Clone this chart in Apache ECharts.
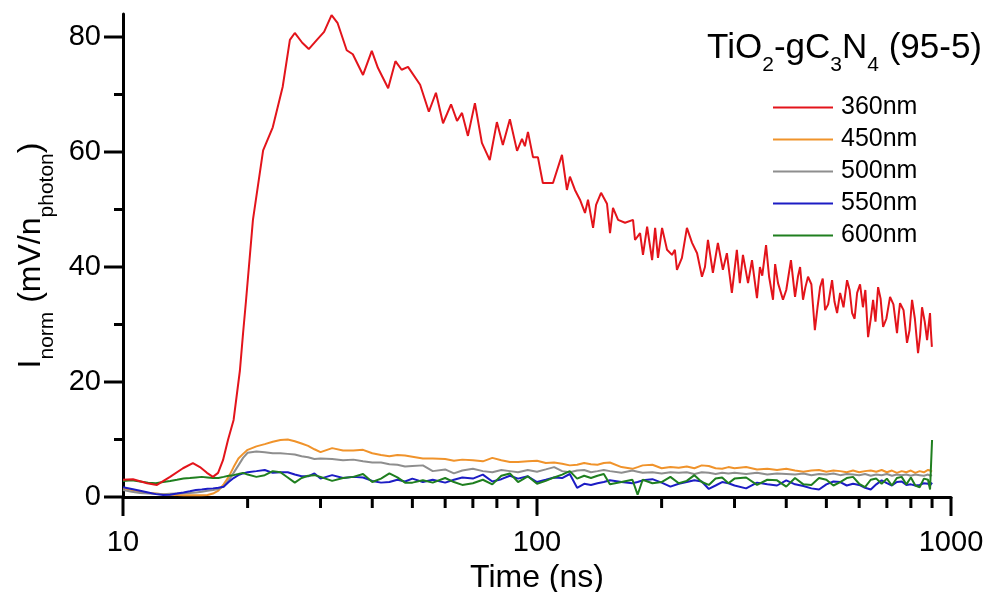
<!DOCTYPE html>
<html><head><meta charset="utf-8">
<script src="https://cdn.jsdelivr.net/npm/echarts@6/dist/echarts.min.js"></script>
<style>html,body{margin:0;padding:0;background:#fff}#c{width:986px;height:592px}</style>
</head><body><div id="c"></div>
<script>
// ---- data (time in ns, intensity in mV/n_photon) ----
const tRed = [10,10.57,11.43,12.08,12.99,13.96,14.75,15.34,15.95,16.49,16.97,17.44,17.93,18.5,19.16,19.5,19.83,20.6,21.8,23.0,24.3,25.3,26.0,27.1,28.1,29.4,30.6,31.9,33.0,34.7,35.9,38.0,39.9,41.3,43.7,45.5,47.1,48.8,52.2,54.8,57.0,59.3,62.0,64.1,65.9,68.1,70.8,73.6,76.9,80.0,82.7,86.0,89.5,92.0,93.5,95.1,97.8,100.5,103.3,109.3,114.9,118.1,120.1,123.5,127.0,130.6,132.8,136.6,138.9,142.8,147.6,150.1,152.6,157.0,163.2,165.0,170.6,172.5,177.4,180.3,184.5,189.7,192.9,196.0,200.5,206.1,211.9,215.3,217.8,223.9,230.2,236.9,243.6,250.3,254.5,258.8,266.0,273.5,281.2,287.5,295.6,303.9,309.0,314.4,323.4,330.6,339.9,345.5,350,357.5,363.6,371.6,376,382.1,392.8,400,410.6,420.0,426.8,432,439.1,445,451.5,460,469.0,476,482.9,490,496.5,505,516.1,523,530.7,539.7,550,561.0,569,577.0,585,593.3,603,612.7,621,630.6,640,648.4,657,666.7,676,685.5,698,712.5,726,740.6,747,753.1,768,783.0,794,805.3,818,832.5,842,851.2,864,875.5,882,889.8,894,899.1];
const v360 = [3.0,3.1,2.4,2.1,3.5,5.0,5.9,5.2,4.2,3.5,4.2,6.4,9.9,13.4,22.0,28.5,34.3,48.2,60.3,64.3,71.3,79.5,80.7,79.0,77.9,79.5,80.9,83.8,82.4,77.7,77.0,73.4,77.6,74.6,71.1,75.8,74.3,74.8,71.7,67.0,70.3,65.0,68.3,65.4,66.8,62.8,68.5,61.6,58.6,65.2,61.2,65.7,60.2,62.3,61.0,63.5,59.1,59.1,54.6,54.6,59.5,53.4,55.7,53.4,51.7,49.4,51.7,46.8,50.8,52.9,51.0,45.9,50.3,48.2,47.7,47.8,48.2,44.7,45.9,42.1,47.0,41.2,46.8,41.6,46.8,43.0,42.1,43.0,39.5,41.6,46.8,44.2,42.4,38.3,40.0,44.7,39.0,44.2,39.5,42.4,35.5,43.0,37.2,42.1,37.2,41.2,34.6,40.0,38.5,43.8,38.3,34.3,40.5,37.2,34.3,36.0,41.2,34.8,38.3,40.0,34.3,36.5,38.3,37.0,29.0,33.0,36.5,38.0,32.5,33.5,37.7,34.0,32.0,35.5,33.0,37.7,36.0,32.0,31.0,35.5,37.0,33.0,36.0,27.8,31.0,34.3,30.5,36.5,34.5,29.6,31.0,34.8,33.5,28.5,31.5,33.7,32.5,26.8,29.0,34.3,31.0,25.0,28.0,33.0,30.5,27.3,29.5,32.0,29.0,26.1];

const tLow = [10,10.5,11,11.5,12,12.5,13,13.5,14,14.5,15,15.5,16,16.5,17,17.5,18,18.5,19,19.5,20,
  21,22,23,24,25,26,27,28,29,30,
  32,34,36,38,40,42,44,46,48,50,
  53,56,60,63,66,70,74,78,82,86,90,95,100,
  105,110,115,120,125,130,135,140,145,150,
  160,170,175,180,190,200,
  210,220,230,240,250,260,270,280,290,300,
  320,340,360,380,400,420,440,460,480,500,520,540,560,580,600,620,640,660,680,700,720,740,760,780,800,820,840,860,880,
  890,900];
const v450 = [1.5,1.2,0.9,0.7,0.6,0.5,0.4,0.35,0.3,0.3,0.3,0.3,0.35,0.6,1.1,2.2,3.5,5.2,6.7,7.5,8.2,
  8.8,9.2,9.6,9.9,10.0,9.7,9.3,8.9,8.3,7.8,
  8.5,8.1,8.1,8.2,7.6,7.3,7.1,7.3,7.2,7.0,
  6.7,6.7,6.6,6.3,6.5,6.4,6.2,6.8,6.4,6.1,6.1,6.2,6.3,
  5.9,6.0,5.8,5.5,5.6,5.9,5.7,5.6,5.9,6.0,
  5.2,4.9,5.2,5.5,5.6,5.0,
  5.2,5.1,5.3,5.0,5.5,5.4,5.0,4.9,5.2,5.0,
  5.2,4.8,4.9,4.7,4.9,4.6,4.4,4.6,4.7,4.4,4.6,4.5,4.3,4.6,4.3,4.5,4.6,4.4,4.7,4.3,4.6,4.2,4.5,4.3,4.6,4.2,4.5,4.3,4.7,
  4.6,4.4];
const v500 = [1.2,0.9,0.7,0.6,0.55,0.5,0.55,0.6,0.65,0.7,0.8,0.9,1.1,1.2,1.4,1.8,2.9,4.2,5.5,6.8,7.7,
  7.9,7.8,7.6,7.6,7.5,7.4,7.1,6.9,6.6,6.7,
  6.6,6.4,6.5,6.2,6.0,6.0,5.7,5.6,5.3,5.4,
  5.5,4.5,4.8,4.1,4.6,4.9,4.5,4.3,4.7,4.5,4.3,4.7,4.4,
  4.8,5.2,4.5,4.3,4.6,4.7,4.3,4.5,4.7,4.5,
  4.2,4.6,4.4,4.2,4.3,4.1,
  4.3,4.2,4.3,4.0,4.3,4.2,4.0,4.2,4.1,4.2,
  4.0,4.2,3.9,4.1,4.0,3.9,4.1,3.8,4.0,3.9,4.1,3.8,4.0,3.9,3.8,4.0,3.7,3.9,3.8,4.0,3.7,3.9,3.8,3.9,3.7,3.9,3.8,3.7,3.9,
  3.7,3.8];
const v550 = [1.7,1.4,1.1,0.8,0.5,0.35,0.4,0.6,0.8,1.0,1.2,1.3,1.45,1.5,1.6,1.8,2.6,3.3,3.8,4.1,4.3,
  4.5,4.7,4.2,4.3,4.3,3.9,3.6,3.6,4.1,3.2,
  3.8,3.3,3.5,3.4,2.8,2.5,2.6,3.0,2.7,3.2,
  2.6,3.0,2.5,3.0,3.4,3.2,3.9,2.7,3.1,3.7,3.2,3.6,2.6,
  3.0,3.4,3.3,4.0,1.6,2.3,2.1,2.4,2.6,2.9,
  2.6,2.4,2.6,2.9,3.1,2.5,
  1.8,2.3,2.6,2.9,2.7,1.4,2.0,2.6,2.4,2.0,
  1.5,2.5,2.2,2.0,2.9,2.2,1.9,1.5,1.3,2.2,2.7,2.6,2.0,2.3,2.1,1.6,1.3,2.2,2.9,2.4,2.0,2.6,2.7,2.1,2.2,2.0,2.1,2.4,2.3,
  2.0,2.5];
const v600 = [2.8,2.9,2.7,2.5,2.4,2.6,2.8,3.0,3.2,3.3,3.4,3.5,3.4,3.3,3.3,3.5,3.7,3.8,4.0,4.2,3.9,
  3.5,3.8,4.5,4.3,3.4,2.5,3.3,3.7,3.8,3.5,
  2.8,3.3,3.5,4.0,2.6,3.2,4.1,3.4,2.5,2.5,
  2.9,2.5,3.3,2.6,2.1,2.4,3.0,2.2,3.7,4.1,2.6,3.6,2.3,
  2.8,3.4,3.9,4.5,3.2,3.7,3.3,3.7,4.0,2.2,
  2.6,3.0,0.4,3.0,2.4,2.6,
  3.5,2.4,2.8,3.8,2.6,2.1,3.2,3.4,2.4,3.2,
  3.4,2.1,3.0,2.9,1.8,3.3,2.2,2.1,3.3,3.0,2.0,2.6,3.3,3.5,2.3,1.7,3.0,3.2,2.3,3.2,2.0,3.3,3.5,2.2,3.4,2.0,1.7,3.2,3.0,
  1.3,9.9];

const seriesNames = ['360nm','450nm','500nm','550nm','600nm'];
const xMajorTicks = [10,100,1000];
const xMinorTicks = [20,30,40,50,60,70,80,90,200,300,400,500,600,700,800,900];
const yMajorTicks = [0,20,40,60,80];
const yMinorTicks = [10,30,50,70];

// ---- chart ----
const FONT = '"Liberation Sans", Arial, sans-serif';
const colors = ['#e3141b','#f0932b','#8e8e8e','#1c1cc4','#1f7f1f'];
function pairs(t, v) { return t.map((x, i) => [x, v[i]]); }

function tickSeries(values, axis, len) {
  return {
    type: 'custom', silent: true, clip: false, z: 5,
    data: values.map(v => axis === 'x' ? [v, 0] : [10, v]),
    renderItem: (params, api) => {
      const p = api.coord([api.value(0), api.value(1)]);
      const shape = axis === 'x'
        ? {x1: p[0], y1: p[1], x2: p[0], y2: p[1] + len}
        : {x1: p[0], y1: p[1], x2: p[0] - len, y2: p[1]};
      return {type: 'line', shape: shape, style: {stroke: '#000', lineWidth: 3}};
    }
  };
}

const chart = echarts.init(document.getElementById('c'), null, {renderer: 'canvas'});
const lowSets = [v450, v500, v550, v600];
const lineSeries = [{
  name: seriesNames[0], type: 'line', data: pairs(tRed, v360), symbol: 'none', showSymbol: false,
  lineStyle: {width: 2, color: colors[0]}, itemStyle: {color: colors[0]}, z: 4
}].concat(lowSets.map((v, i) => ({
  name: seriesNames[i + 1], type: 'line', data: pairs(tLow, v), symbol: 'none', showSymbol: false,
  lineStyle: {width: 2, color: colors[i + 1]}, itemStyle: {color: colors[i + 1]}, z: 3
})));

chart.setOption({
  animation: false,
  backgroundColor: '#fff',
  title: {
    text: '{m|TiO}{s|2}{m|-gC}{s|3}{m|N}{s|4}{m| (95-5)}',
    right: 4, top: 31, padding: 0,
    textStyle: {
      fontWeight: 'normal',
      rich: {
        m: {fontSize: 35, lineHeight: 35, fontFamily: FONT, fontWeight: 'normal', color: '#000'},
        s: {fontSize: 21, lineHeight: 21, fontFamily: FONT, fontWeight: 'normal', color: '#000', padding: [33, 0, 0, 0]}
      }
    }
  },
  legend: {
    data: seriesNames, orient: 'vertical', left: 773, top: 95, padding: 0,
    icon: 'rect', itemWidth: 60, itemHeight: 2, itemGap: 7,
    textStyle: {fontSize: 25, lineHeight: 25, fontFamily: FONT, color: '#000', padding: [0, 0, 0, 3]}
  },
  grid: {left: 123, right: 35, top: 14, bottom: 95, containLabel: false, outerBoundsMode: 'none'},
  xAxis: {
    type: 'log', logBase: 10, min: 10, max: 1000,
    axisLine: {onZero: false, lineStyle: {color: '#000', width: 3}},
    axisTick: {show: false}, minorTick: {show: false}, splitLine: {show: false},
    axisLabel: {fontSize: 29, fontFamily: FONT, color: '#000', margin: 31,
      formatter: v => String(Math.round(v))},
    name: 'Time (ns)', nameLocation: 'middle', nameGap: 62,
    nameTextStyle: {fontSize: 32, fontFamily: FONT, color: '#000'}
  },
  yAxis: {
    type: 'value', min: 0, max: 84, interval: 20,
    axisLine: {onZero: false, lineStyle: {color: '#000', width: 3}},
    axisTick: {show: false}, splitLine: {show: false},
    axisLabel: {fontSize: 29, fontFamily: FONT, color: '#000', margin: 22, showMaxLabel: false,
      formatter: v => (v % 20 === 0 ? String(v) : '')},
    name: '{m|I}{s|norm}{m| (mV/n}{s|photon}{m|)}',
    nameLocation: 'middle', nameRotate: 90, nameGap: 75,
    nameTextStyle: {
      rich: {
        m: {fontSize: 32, lineHeight: 32, fontFamily: FONT, color: '#000'},
        s: {fontSize: 21, lineHeight: 21, fontFamily: FONT, color: '#000', padding: [33, 0, 0, 0]}
      }
    }
  },
  series: lineSeries.concat([
    tickSeries(xMajorTicks, 'x', 19),
    tickSeries(xMinorTicks, 'x', 11),
    tickSeries(yMajorTicks, 'y', 19),
    tickSeries(yMinorTicks, 'y', 9)
  ])
});
</script></body></html>
